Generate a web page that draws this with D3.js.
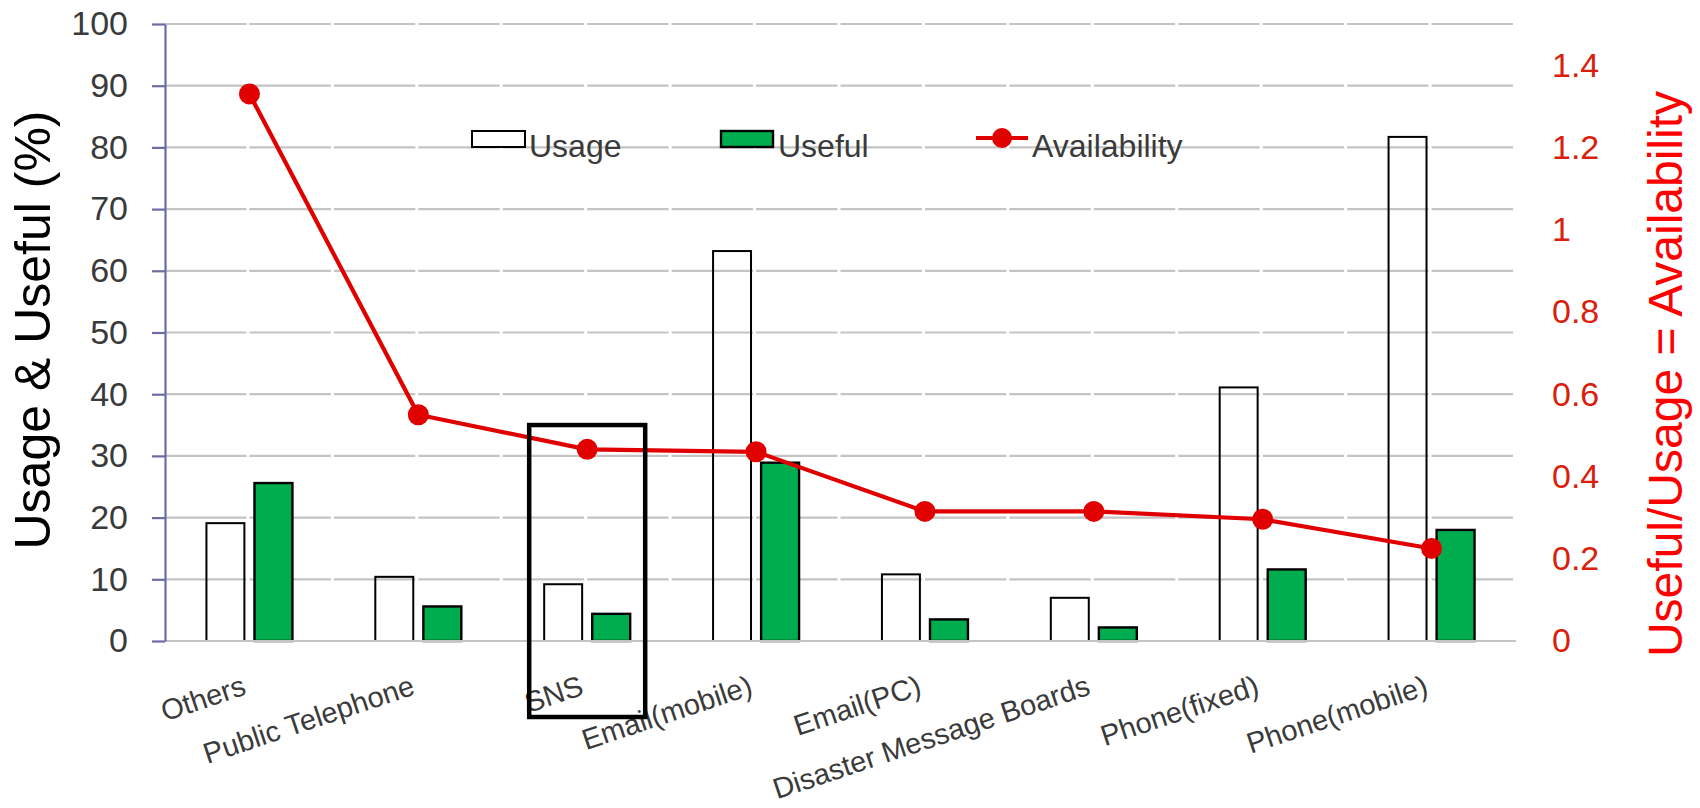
<!DOCTYPE html>
<html>
<head>
<meta charset="utf-8">
<script src="https://cdn.jsdelivr.net/npm/d3@7"></script>
<style>
  html, body { margin: 0; padding: 0; background: #fff; }
  svg { display: block; }
  text { font-family: "Liberation Sans", Arial, sans-serif; }
</style>
</head>
<body>
<svg id="chart" width="1700" height="808"></svg>
<script>
// Communication means after the disaster
const categories = ["Others", "Public Telephone", "SNS", "Email(mobile)", "Email(PC)",
                    "Disaster Message Boards", "Phone(fixed)", "Phone(mobile)"];
const usage = [19.1, 10.4, 9.2, 63.2, 10.8, 7.0, 41.1, 81.7];          // %
const useful = [25.6, 5.6, 4.4, 28.9, 3.5, 2.2, 11.6, 18.0];           // %
const availability = [1.33, 0.55, 0.466, 0.46, 0.315, 0.315, 0.296, 0.225]; // useful / usage
const leftTicks = [0, 10, 20, 30, 40, 50, 60, 70, 80, 90, 100];
const rightTicks = [0, 0.2, 0.4, 0.6, 0.8, 1, 1.2, 1.4];
const seriesNames = ["Usage", "Useful", "Availability"];
const highlighted = "SNS";

const svg = d3.select("#chart");
const plot = { left: 165, right: 1516, top: 24, bottom: 641 };

const x0 = d3.scaleBand().domain(categories).range([plot.left, plot.right]).padding(0);
const bw = x0.bandwidth();
const x1 = d3.scaleBand().domain(["usage", "useful"])
  .range([bw / 2 - 43, bw / 2 + 43]).paddingInner(0.21).paddingOuter(0);
const yL = d3.scaleLinear().domain([0, 100]).range([plot.bottom, plot.top]);
const yR = d3.scaleLinear().domain([0, 1.5]).range([plot.bottom, plot.top]);

const gridColor = "#c4c4c4";
const axisColor = "#6c6ca4";
const textColor = "#3a3a3a";
const red = "#e00000";
const green = "#00ad4e";

// horizontal gridlines, broken at every half category like the source sheet
const half = bw / 2;
svg.append("g").selectAll("line").data(leftTicks.filter(d => d > 0)).join("line")
  .attr("x1", plot.left).attr("x2", plot.right)
  .attr("y1", d => yL(d)).attr("y2", d => yL(d))
  .attr("stroke", gridColor).attr("stroke-width", 2.2)
  .attr("stroke-dasharray", `${half - 3},3`);

// bars
const groups = svg.append("g").selectAll("g").data(categories).join("g")
  .attr("transform", d => `translate(${x0(d)},0)`);
groups.append("rect")
  .attr("x", x1("usage")).attr("width", x1.bandwidth())
  .attr("y", (d, i) => yL(usage[i])).attr("height", (d, i) => yL(0) - yL(usage[i]))
  .attr("fill", "none").attr("stroke", "#000").attr("stroke-width", 2);
groups.append("rect")
  .attr("x", x1("useful")).attr("width", x1.bandwidth())
  .attr("y", (d, i) => yL(useful[i])).attr("height", (d, i) => yL(0) - yL(useful[i]))
  .attr("fill", green).attr("stroke", "#000").attr("stroke-width", 2.4);

// zero line over the bar bottoms
svg.append("line")
  .attr("x1", plot.left).attr("x2", plot.right)
  .attr("y1", yL(0)).attr("y2", yL(0))
  .attr("stroke", gridColor).attr("stroke-width", 2.2);

// left axis
const leftAxis = svg.append("g").attr("transform", `translate(${plot.left},0)`)
  .call(d3.axisLeft(yL).tickValues(leftTicks).tickSize(13).tickSizeOuter(0).tickPadding(24));
leftAxis.select(".domain").attr("stroke", axisColor).attr("stroke-width", 2.2);
leftAxis.selectAll(".tick line").attr("stroke", axisColor).attr("stroke-width", 2.2);
leftAxis.selectAll(".tick text").attr("fill", textColor)
  .style("font-size", "34px").style("font-family", "'Liberation Sans', Arial, sans-serif");

// right axis (labels only)
const rightAxis = svg.append("g").attr("transform", `translate(${plot.right},0)`)
  .call(d3.axisRight(yR).tickValues(rightTicks).tickSize(0).tickPadding(36)
    .tickFormat(d3.format("~g")));
rightAxis.select(".domain").remove();
rightAxis.selectAll(".tick text").attr("fill", "#d8200c")
  .style("font-size", "34px").style("font-family", "'Liberation Sans', Arial, sans-serif");

// availability line
const line = d3.line().x((d, i) => x0(categories[i]) + bw / 2).y(d => yR(d));
svg.append("path").datum(availability)
  .attr("d", line).attr("fill", "none").attr("stroke", red).attr("stroke-width", 4.2)
  .attr("stroke-linejoin", "round");
svg.append("g").selectAll("circle").data(availability).join("circle")
  .attr("cx", (d, i) => x0(categories[i]) + bw / 2).attr("cy", d => yR(d))
  .attr("r", 10.5).attr("fill", red);

// category labels
svg.append("g").selectAll("text").data(categories).join("text")
  .attr("transform", d => `translate(${x0(d) + bw / 2 - 2},694) rotate(-18.5)`)
  .attr("text-anchor", "end")
  .attr("fill", textColor)
  .style("font-size", "29px")
  .text(d => d);

// highlight box around SNS
const hb = { top: 35, bottomPad: 76, halfWidth: 58 };
svg.append("rect")
  .attr("x", x0(highlighted) + bw / 2 - hb.halfWidth)
  .attr("y", yL(hb.top))
  .attr("width", hb.halfWidth * 2)
  .attr("height", yL(0) + hb.bottomPad - yL(hb.top))
  .attr("fill", "none").attr("stroke", "#000").attr("stroke-width", 4.5);

// axis titles
svg.append("text")
  .attr("transform", `translate(50,330) rotate(-90)`)
  .attr("text-anchor", "middle").attr("fill", "#000")
  .style("font-size", "50px").text("Usage & Useful (%)");
svg.append("text")
  .attr("transform", `translate(1682,374) rotate(-90)`)
  .attr("text-anchor", "middle").attr("fill", "#ff0000")
  .style("font-size", "48px").text("Useful/Usage = Availability");

// legend
const legend = svg.append("g");
const lg = [
  { x: 472, name: seriesNames[0] },
  { x: 721, name: seriesNames[1] },
  { x: 976, name: seriesNames[2] }
];
legend.append("rect").attr("x", lg[0].x).attr("y", 131).attr("width", 53).attr("height", 16)
  .attr("fill", "#fff").attr("stroke", "#000").attr("stroke-width", 2);
legend.append("rect").attr("x", lg[1].x).attr("y", 131).attr("width", 52).attr("height", 16)
  .attr("fill", green).attr("stroke", "#000").attr("stroke-width", 2.4);
legend.append("line").attr("x1", lg[2].x).attr("x2", lg[2].x + 52).attr("y1", 138).attr("y2", 138)
  .attr("stroke", red).attr("stroke-width", 4.2);
legend.append("circle").attr("cx", lg[2].x + 26).attr("cy", 138).attr("r", 10).attr("fill", red);
legend.selectAll("text").data(lg).join("text")
  .attr("x", (d, i) => d.x + (i === 2 ? 56 : 57)).attr("y", 157)
  .attr("fill", textColor).style("font-size", "32px")
  .text(d => d.name);
</script>
</body>
</html>
